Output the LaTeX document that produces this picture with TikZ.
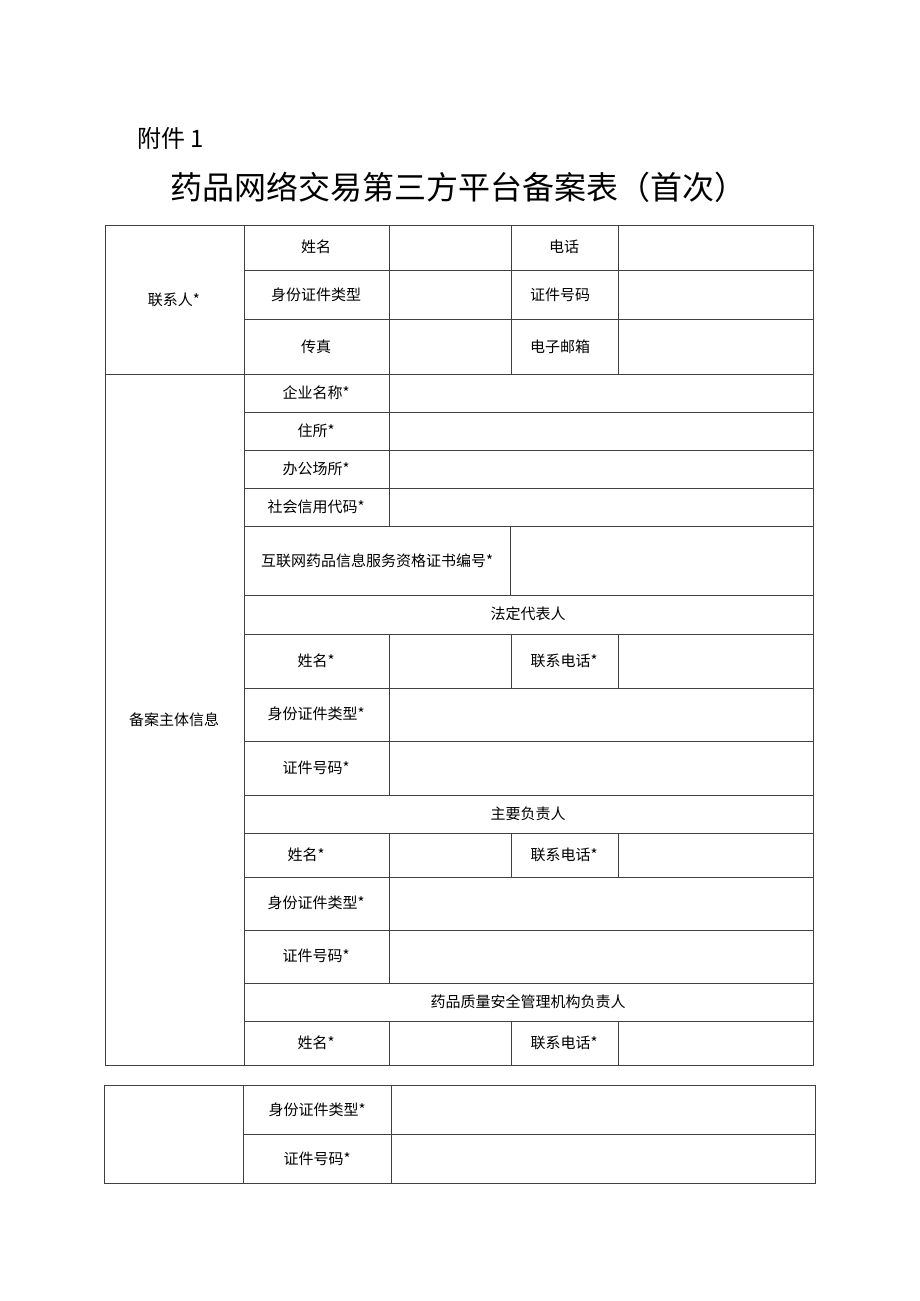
\documentclass[tikz,border=0pt]{standalone}
\usepackage{fontspec}
\setmainfont{Noto Sans CJK SC}
\usetikzlibrary{positioning}
\tikzset{cell/.style={font=\fontsize{15}{15}\selectfont, inner sep=0pt},
  rule/.style={draw=black!75, line width=0.9pt}}

\begin{document}
\begin{tikzpicture}[x=1pt, y=-1pt]
\useasboundingbox (0,0) rectangle (920,1301);
\node[anchor=west, inner sep=0pt, font=\fontsize{24}{24}\selectfont] (fujian) at (137,138) {附件 1};
\node[inner sep=0pt, font=\fontsize{32}{32}\selectfont] (title) at (458,187) {药品网络交易第三方平台备案表（首次）};
\draw[rule] (105,225) rectangle (813,1065);
\draw[rule] (105,374) -- (813,374);
\foreach \y in {270,319,412,450,488,526,595,634,688,741,795,833,877,930,983,1021}
  \draw[rule] (244,\y) -- (813,\y);
\draw[rule] (244,225) -- (244,1065);
\draw[rule] (389,225) -- (389,526);
\draw[rule] (510,526) -- (510,595);
\draw[rule] (389,634) -- (389,795);
\draw[rule] (389,833) -- (389,983);
\draw[rule] (389,1021) -- (389,1065);
\foreach \x in {511,618}{
  \draw[rule] (\x,225) -- (\x,374);
  \draw[rule] (\x,634) -- (\x,688);
  \draw[rule] (\x,833) -- (\x,877);
  \draw[rule] (\x,1021) -- (\x,1065);
}
\draw[rule] (104,1085) rectangle (815,1183);
\draw[rule] (243,1134) -- (815,1134);
\draw[rule] (243,1085) -- (243,1183);
\draw[rule] (391,1085) -- (391,1183);
\node[cell] (lxr) at (174,300) {联系人*};
\node[cell] (xm) at (316,247) {姓名};
\node[cell] (dh) at (564,247) {电话};
\node[cell] (sflx) at (316,295) {身份证件类型};
\node[cell] (zjhm) at (560,295) {证件号码};
\node[cell] (cz) at (316,347) {传真};
\node[cell] (yx) at (560,347) {电子邮箱};
\node[cell] (bazt) at (174,720) {备案主体信息};
\node[cell] (qymc) at (316,393) {企业名称*};
\node[cell] (zs) at (316,431) {住所*};
\node[cell] (bgcs) at (316,469) {办公场所*};
\node[cell] (xydm) at (316,507) {社会信用代码*};
\node[cell] (zsbh) at (377,561) {互联网药品信息服务资格证书编号*};
\node[cell] (fddb) at (528,614) {法定代表人};
\node[cell] (fdxm) at (316,661) {姓名*};
\node[cell] (fddh) at (564,661) {联系电话*};
\node[cell] (fdlx) at (316,714) {身份证件类型*};
\node[cell] (fdhm) at (316,768) {证件号码*};
\node[cell] (zyfz) at (528,814) {主要负责人};
\node[cell] (zyxm) at (306,855) {姓名*};
\node[cell] (zydh) at (564,855) {联系电话*};
\node[cell] (zylx) at (316,903) {身份证件类型*};
\node[cell] (zyhm) at (316,956) {证件号码*};
\node[cell] (zlfz) at (528,1002) {药品质量安全管理机构负责人};
\node[cell] (zlxm) at (316,1043) {姓名*};
\node[cell] (zldh) at (564,1043) {联系电话*};
\node[cell] (zllx) at (317,1110) {身份证件类型*};
\node[cell] (zlhm) at (317,1159) {证件号码*};
\end{tikzpicture}
\end{document}
